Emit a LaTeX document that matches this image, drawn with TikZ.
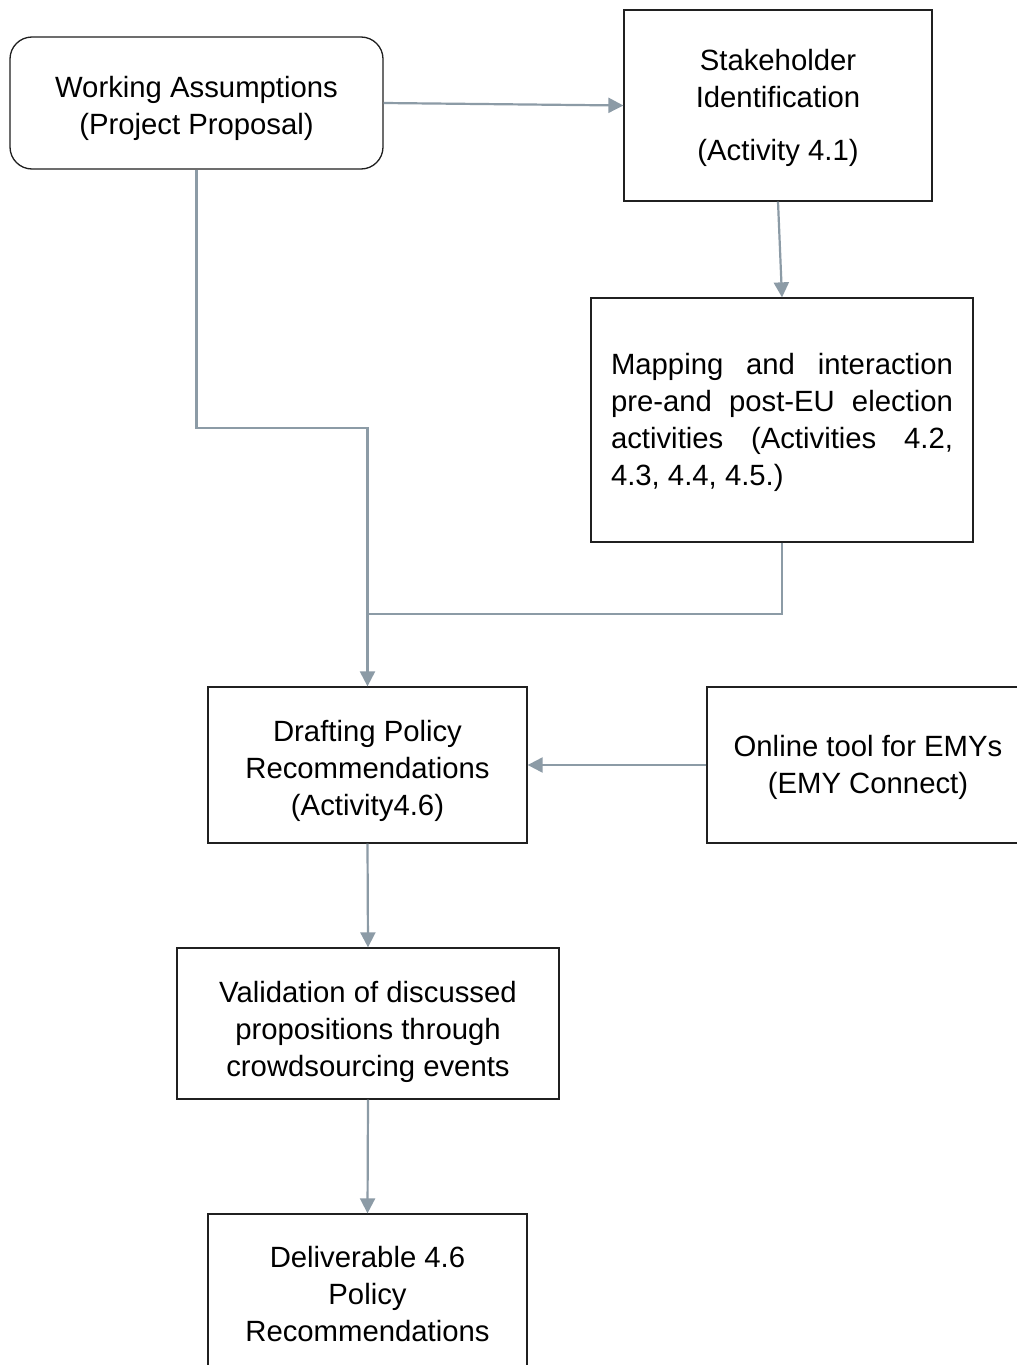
\documentclass[tikz,border=0pt]{standalone}
\usepackage{fontspec}
\setmainfont{Liberation Sans}
\usetikzlibrary{arrows.meta}
\setlength{\parindent}{0pt}
\definecolor{conncol}{HTML}{8C9BA6}
\definecolor{boxcol}{HTML}{202020}
\begin{document}
\begin{tikzpicture}[x=1pt,y=-1pt,
  box/.style={draw=boxcol,line width=1.3pt,inner sep=0pt},
  txt/.style={inner sep=0pt,align=center,font=\fontsize{29.3}{37}\selectfont},
  conn/.style={draw=conncol,line width=2.2pt,-{Triangle[length=15pt,width=15pt]}},
  plain/.style={draw=conncol,line width=2.2pt}]
\useasboundingbox (0,0) rectangle (1017,1365);
\clip (0,0) rectangle (1017,1365);
\fill[white] (0,0) rectangle (1017,1365);
% boxes
\node[box,rounded corners=22pt,minimum width=373pt,minimum height=132pt] (WA) at (196.5,103) {};
\node[box,minimum width=308pt,minimum height=191pt] (SI) at (778,105.5) {};
\node[box,minimum width=382pt,minimum height=244pt] (MP) at (782,420) {};
\node[box,minimum width=319pt,minimum height=156pt] (DP) at (367.5,765) {};
\node[box,minimum width=322pt,minimum height=156pt] (OT) at (868,765) {};
\node[box,minimum width=382pt,minimum height=151pt] (VP) at (368,1023.5) {};
\node[box,minimum width=319pt,minimum height=160pt] (DL) at (367.5,1294) {};
% texts
\node[txt] (WAt) at (196.5,108) {Working Assumptions\\(Project Proposal)};
\node[txt] (SIt) at (778,107.5) {Stakeholder\\Identification\\[16pt](Activity 4.1)};
\node[txt,text width=342pt,align=justify] (MPt) at (782,422) {Mapping and interaction\linebreak pre-and post-EU election\linebreak activities (Activities 4.2,\linebreak 4.3, 4.4, 4.5.)};
\node[txt] (DPt) at (367.5,771) {Drafting Policy\\Recommendations\\(Activity4.6)};
\node[txt] (OTt) at (868,767) {Online tool for EMYs\\(EMY Connect)};
\node[txt] (VPt) at (368,1031.5) {Validation of discussed\\propositions through\\crowdsourcing events};
\node[txt] (DLt) at (367.5,1294) {Deliverable 4.6\\Policy\\Recommendations};
% connectors
\coordinate (k1) at (196.5,428);
\coordinate (k2) at (367.5,614);
\draw[conn] (WA.east) -- (SI.west);
\draw[conn] (SI.south) -- (MP.north);
\draw[conn] (WA.south) -- (k1) -| (DP.north);
\draw[plain] (MP.south) |- (k2);
\draw[conn] (OT.west) -- (DP.east);
\draw[conn] (DP.south) -- (VP.north);
\draw[conn] (VP.south) -- (DL.north);
\end{tikzpicture}
\end{document}
